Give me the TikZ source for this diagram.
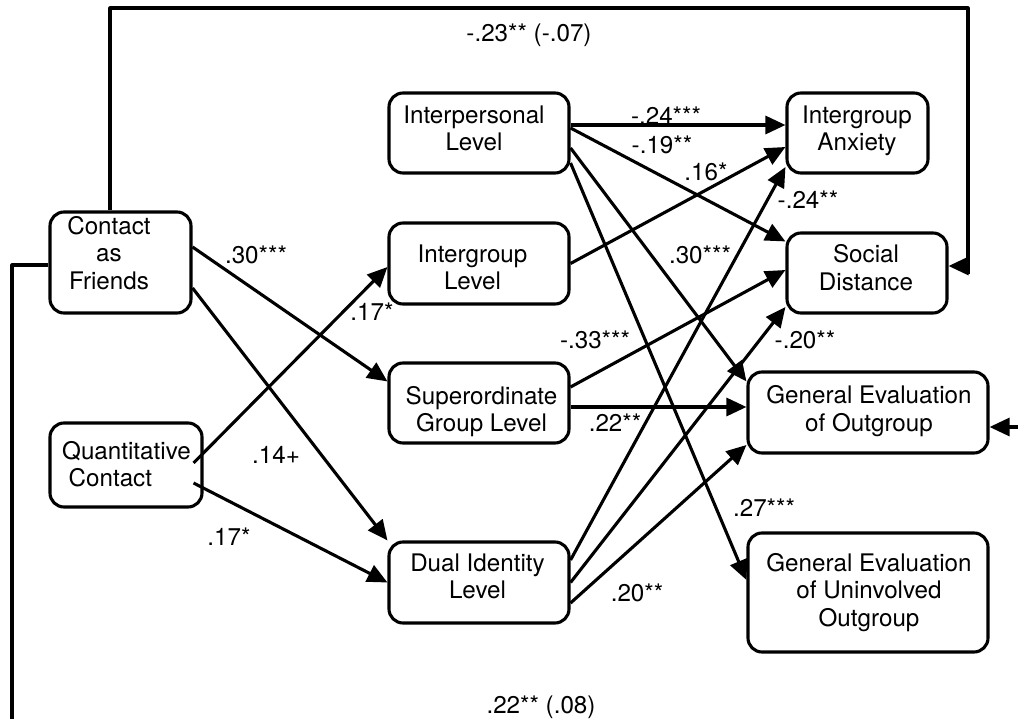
\documentclass[tikz,border=0pt]{standalone}
\usepackage{fontspec}
\setmainfont{TeX Gyre Heros}
\usetikzlibrary{arrows.meta,calc}

\begin{document}
\begin{tikzpicture}[x=1pt,y=-1pt,>={Triangle[length=20pt,width=18pt]},line join=round,
  box/.style={draw,line width=3.1pt,rounded corners=14pt,inner sep=0pt},
  txt/.style={align=center,inner sep=0pt,font=\fontsize{24.2}{27.5}\selectfont},
  link/.style={->,line width=3.1pt},
  line/.style={line width=3.1pt},
  coef/.style={inner sep=0pt,font=\fontsize{24.2}{27.5}\selectfont}]
  \useasboundingbox (0,0) rectangle (1018,719);
  \node[box,minimum width=141pt,minimum height=101pt] (cf) at (120.5,262.5) {};
  \node[box,minimum width=152pt,minimum height=84pt] (qc) at (126,465) {};
  \node[box,minimum width=180pt,minimum height=80pt] (ipl) at (479,133) {};
  \node[box,minimum width=180pt,minimum height=81pt] (igl) at (479,263.5) {};
  \node[box,minimum width=180pt,minimum height=80pt] (sgl) at (479,403) {};
  \node[box,minimum width=180pt,minimum height=81pt] (dil) at (479,582.5) {};
  \node[box,minimum width=141pt,minimum height=80pt] (anx) at (857.5,133) {};
  \node[box,minimum width=160pt,minimum height=80pt] (sd) at (867,273) {};
  \node[box,minimum width=240pt,minimum height=81pt] (geo) at (868,412.5) {};
  \node[box,minimum width=240pt,minimum height=119pt] (geu) at (868,592.5) {};
  \node[txt] (cf-t) at (109,253) {Contact\\as\\Friends};
  \node[txt,align=left] (qc-t) at (126.5,464) {Quantitative\\\hspace*{6.5pt}Contact};
  \node[txt] (ipl-t) at (474,128.5) {Interpersonal\\Level};
  \node[txt] (igl-t) at (472.5,267.5) {Intergroup\\Level};
  \node[txt] (sgl-t) at (481.5,411.5) {Superordinate\\Group Level};
  \node[txt] (dil-t) at (477.5,576.5) {Dual Identity\\Level};
  \node[txt] (anx-t) at (857,131) {Intergroup\\Anxiety};
  \node[txt] (sd-t) at (866,267.5) {Social\\Distance};
  \node[txt] (geo-t) at (869,411) {General Evaluation\\of Outgroup};
  \node[txt] (geu-t) at (869,592.5) {General Evaluation\\of Uninvolved\hspace*{18pt}\\Outgroup};
  \coordinate (tr) at (968,8);
  \coordinate (rb) at (968,274);
  \coordinate (rm) at (968,266);
  \coordinate (bl) at (12,740);
  \coordinate (er) at (1030,427);
  \draw[line] ([xshift=-10.5pt]cf.north) |- (tr) -- (rb);
  \draw[link] (rm) -- (rm -| sd.east);
  \draw[line] ([yshift=-2.5pt]cf.west) -| (bl);
  \draw[link] (er) -- (er -| geo.east);
  \draw[link] ([yshift=15.5pt]cf.east) -- ([yshift=-20pt]sgl.north west);
  \draw[link] ([yshift=-25.5pt]cf.east) -- (dil.north west);
  \draw[link] ([xshift=-10pt,yshift=2pt]qc.east) -- ([yshift=-3.5pt]igl.west);
  \draw[link] ([xshift=-10pt,yshift=-18pt]qc.east) -- (dil.west);
  \draw[link] ([yshift=8pt]ipl.east) -- ([yshift=8pt]anx.west);
  \draw[link] ([yshift=5pt]ipl.east) -- ([yshift=-10pt]sd.north west);
  \draw[link] (igl.east) -- ([yshift=-14pt]anx.west);
  \draw[link] ([yshift=-15pt]ipl.east) -- ([yshift=-11pt]geo.north west);
  \draw[link] ([yshift=-30pt]ipl.east) -- ([yshift=12.5pt]geu.west);
  \draw[link] ([yshift=16pt]sgl.east) -- ([yshift=3pt]sd.west);
  \draw[link] ([yshift=-4pt]sgl.east) -- ([yshift=5.5pt]geo.west);
  \draw[link] ([yshift=22.5pt]dil.east) -- ([yshift=-34pt]anx.west);
  \draw[link] (dil.east) -- ([yshift=-34pt]sd.west);
  \draw[link] ([yshift=-20.5pt]dil.east) -- ([yshift=-32.5pt]geo.west);
  \node[coef] (c1) at (529,35) {-.23** (-.07)};
  \node[coef] (c2) at (256,255) {.30***};
  \node[coef] (c3) at (372,312) {.17*};
  \node[coef] (c4) at (276,455) {.14+};
  \node[coef] (c5) at (229,537) {.17*};
  \node[coef] (c6) at (666,116) {-.24***};
  \node[coef] (c7) at (662,145) {-.19**};
  \node[coef] (c8) at (706,172) {.16*};
  \node[coef] (c9) at (808,200) {-.24**};
  \node[coef] (c10) at (700,255) {.30***};
  \node[coef] (c11) at (595,340) {-.33***};
  \node[coef] (c12) at (805,340) {-.20**};
  \node[coef] (c13) at (615,423) {.22**};
  \node[coef] (c14) at (764,508) {.27***};
  \node[coef] (c15) at (637,593) {.20**};
  \node[coef] (c16) at (541,707) {.22** (.08)};
\end{tikzpicture}
\end{document}
